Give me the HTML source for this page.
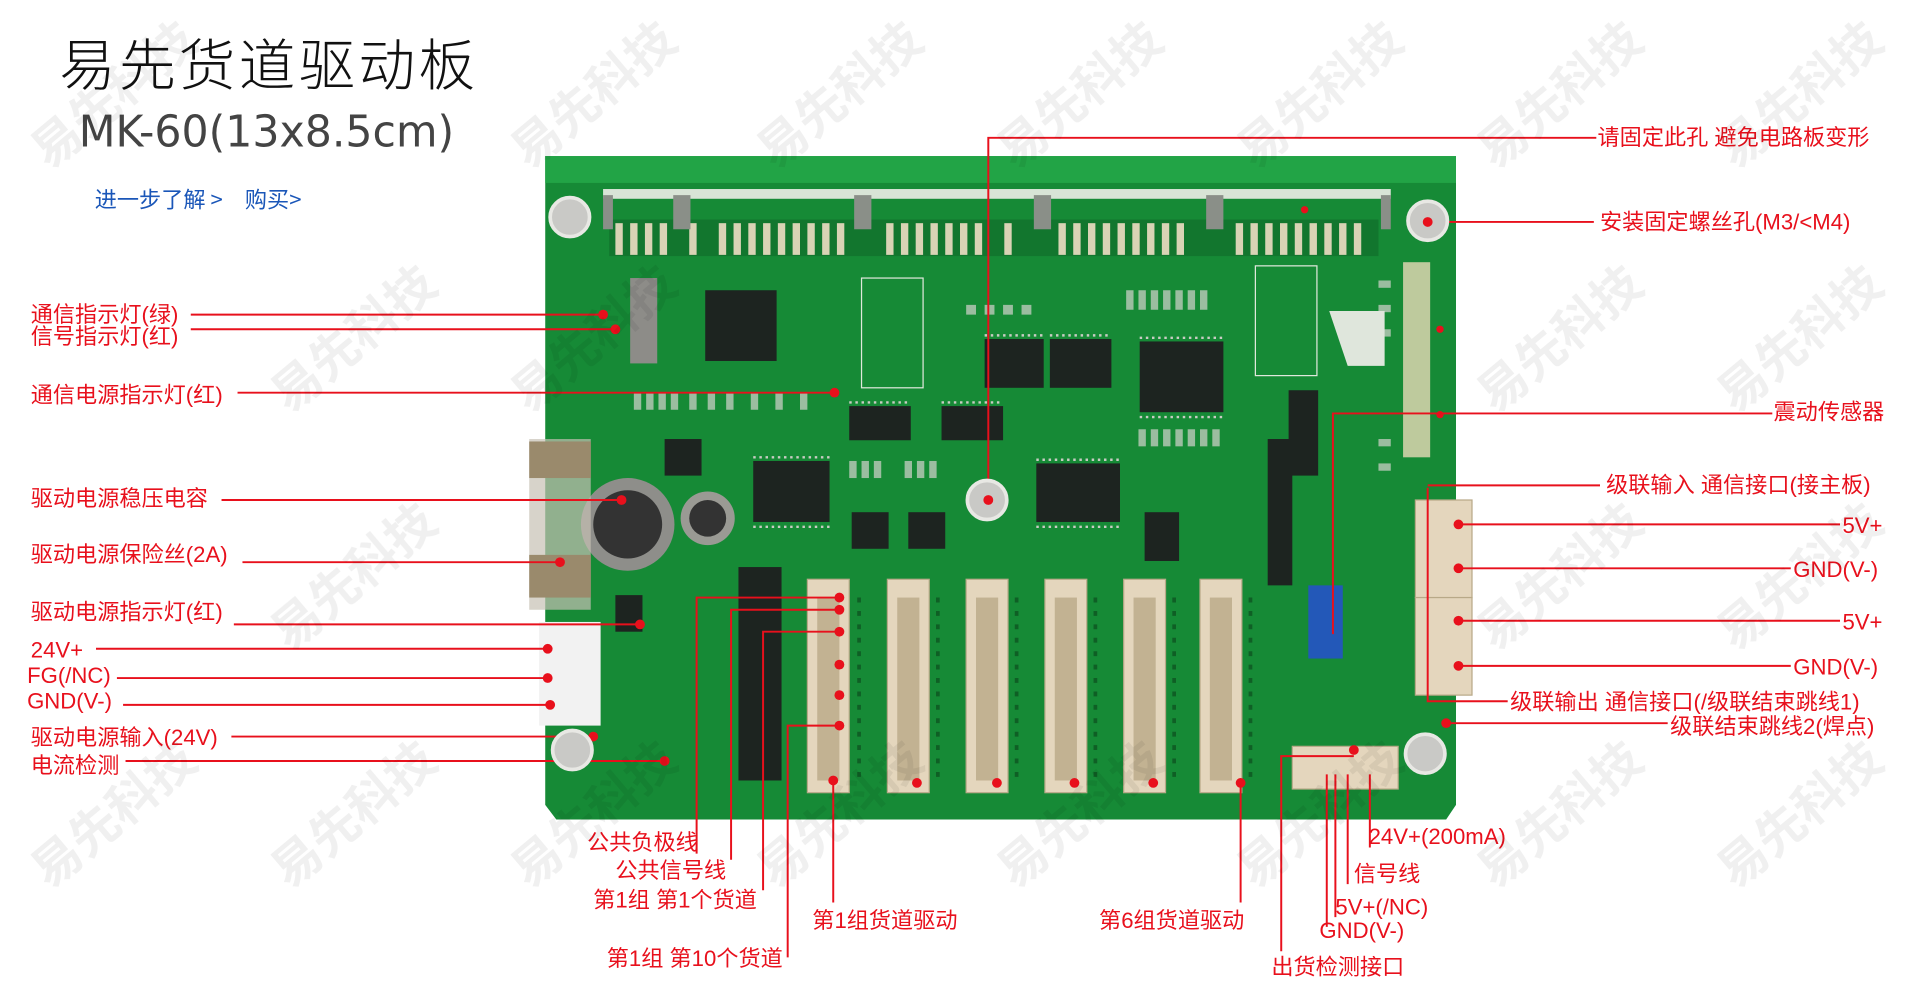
<!DOCTYPE html>
<html><head><meta charset="utf-8"><style>
html,body{margin:0;padding:0;background:#fff;width:1920px;height:1000px;overflow:hidden}
svg{display:block}
.r{fill:#e8101c;font-family:"Liberation Sans","Noto Sans CJK SC",sans-serif;font-size:18px}
.l{stroke:#e8101c;stroke-width:1.6;fill:none}
.wm{fill:#000;opacity:.06;font-family:"Noto Sans CJK SC",sans-serif;font-size:40px;font-weight:bold}
</style></head><body>
<svg width="1920" height="1000" viewBox="0 0 1560 820" preserveAspectRatio="none" xmlns="http://www.w3.org/2000/svg">
<!-- board -->
<path d="M443 128 H1183 V660 L1175 672 H452 L443 660 Z" fill="#168a36"/>
<rect x="443" y="128" width="740" height="22" fill="#22a446"/>
<rect x="490" y="155" width="640" height="8" fill="#d8e4d6"/>
<rect x="495" y="180" width="625" height="30" fill="#12762e"/>
<g fill="#d9d3b5">
<rect x="500" y="183" width="6" height="26"/><rect x="512" y="183" width="6" height="26"/><rect x="524" y="183" width="6" height="26"/><rect x="536" y="183" width="6" height="26"/><rect x="560" y="183" width="6" height="26"/><rect x="584" y="183" width="6" height="26"/><rect x="596" y="183" width="6" height="26"/><rect x="608" y="183" width="6" height="26"/><rect x="620" y="183" width="6" height="26"/><rect x="632" y="183" width="6" height="26"/><rect x="644" y="183" width="6" height="26"/><rect x="656" y="183" width="6" height="26"/><rect x="668" y="183" width="6" height="26"/><rect x="680" y="183" width="6" height="26"/><rect x="720" y="183" width="6" height="26"/><rect x="732" y="183" width="6" height="26"/><rect x="744" y="183" width="6" height="26"/><rect x="756" y="183" width="6" height="26"/><rect x="768" y="183" width="6" height="26"/><rect x="780" y="183" width="6" height="26"/><rect x="792" y="183" width="6" height="26"/><rect x="816" y="183" width="6" height="26"/><rect x="860" y="183" width="6" height="26"/><rect x="872" y="183" width="6" height="26"/><rect x="884" y="183" width="6" height="26"/><rect x="896" y="183" width="6" height="26"/><rect x="908" y="183" width="6" height="26"/><rect x="920" y="183" width="6" height="26"/><rect x="932" y="183" width="6" height="26"/><rect x="944" y="183" width="6" height="26"/><rect x="956" y="183" width="6" height="26"/><rect x="1004" y="183" width="6" height="26"/><rect x="1016" y="183" width="6" height="26"/><rect x="1028" y="183" width="6" height="26"/><rect x="1040" y="183" width="6" height="26"/><rect x="1052" y="183" width="6" height="26"/><rect x="1064" y="183" width="6" height="26"/><rect x="1076" y="183" width="6" height="26"/><rect x="1088" y="183" width="6" height="26"/><rect x="1100" y="183" width="6" height="26"/>
</g>
<g fill="#8a8f88"><rect x="490" y="160" width="8" height="28"/><rect x="547" y="160" width="14" height="28"/><rect x="694" y="160" width="14" height="28"/><rect x="840" y="160" width="14" height="28"/><rect x="980" y="160" width="14" height="28"/><rect x="1122" y="160" width="8" height="28"/></g>
<!-- small pads scattered -->
<g fill="#c8cfc4" opacity=".75">
<rect x="515" y="322" width="6" height="14"/><rect x="525" y="322" width="6" height="14"/><rect x="535" y="322" width="6" height="14"/><rect x="545" y="322" width="6" height="14"/><rect x="560" y="322" width="6" height="14"/><rect x="575" y="322" width="6" height="14"/><rect x="590" y="322" width="6" height="14"/><rect x="610" y="322" width="6" height="14"/><rect x="630" y="322" width="6" height="14"/><rect x="650" y="322" width="6" height="14"/>
<rect x="915" y="238" width="6" height="16"/><rect x="925" y="238" width="6" height="16"/><rect x="935" y="238" width="6" height="16"/><rect x="945" y="238" width="6" height="16"/><rect x="955" y="238" width="6" height="16"/><rect x="965" y="238" width="6" height="16"/><rect x="975" y="238" width="6" height="16"/>
<rect x="925" y="352" width="6" height="14"/><rect x="935" y="352" width="6" height="14"/><rect x="945" y="352" width="6" height="14"/><rect x="955" y="352" width="6" height="14"/><rect x="965" y="352" width="6" height="14"/><rect x="975" y="352" width="6" height="14"/><rect x="985" y="352" width="6" height="14"/>
<rect x="690" y="378" width="6" height="14"/><rect x="700" y="378" width="6" height="14"/><rect x="710" y="378" width="6" height="14"/><rect x="735" y="378" width="6" height="14"/><rect x="745" y="378" width="6" height="14"/><rect x="755" y="378" width="6" height="14"/>
<rect x="785" y="250" width="8" height="8"/><rect x="800" y="250" width="8" height="8"/><rect x="815" y="250" width="8" height="8"/><rect x="830" y="250" width="8" height="8"/>
<rect x="1120" y="230" width="10" height="6"/><rect x="1120" y="250" width="10" height="6"/><rect x="1120" y="270" width="10" height="6"/><rect x="1120" y="360" width="10" height="6"/><rect x="1120" y="380" width="10" height="6"/>
</g>
<!-- chips -->
<g fill="#1d2420">
<rect x="573" y="238" width="58" height="58"/><rect x="512" y="228" width="22" height="70" fill="#8d8c88"/>
<rect x="690" y="333" width="50" height="28"/><rect x="765" y="333" width="50" height="28"/>
<rect x="800" y="278" width="48" height="40"/><rect x="853" y="278" width="50" height="40"/>
<rect x="926" y="280" width="68" height="58"/><rect x="612" y="378" width="62" height="50"/>
<rect x="842" y="380" width="68" height="48"/><rect x="1047" y="320" width="24" height="70"/>
<rect x="540" y="360" width="30" height="30"/><rect x="600" y="465" width="35" height="175"/>
<rect x="500" y="488" width="22" height="30"/><rect x="692" y="420" width="30" height="30"/><rect x="738" y="420" width="30" height="30"/>
<rect x="930" y="420" width="28" height="40"/><rect x="1030" y="360" width="20" height="120"/>
</g>
<g stroke="#c9ccc4" stroke-width="2" stroke-dasharray="2 3">
<path d="M690 330H740M765 330H815M800 275H848M853 275H903M926 277H994M612 375H674M842 377H910M612 432H674M842 432H910M926 342H994"/>
</g>
<rect x="700" y="228" width="50" height="90" fill="none" stroke="#e0e8dc"/>
<rect x="1020" y="218" width="50" height="90" fill="none" stroke="#e0e8dc"/>
<polygon points="1080,255 1125,255 1125,300 1095,300" fill="#dfe6dc"/>
<!-- caps -->
<circle cx="510" cy="430" r="38" fill="#8e8e8a"/><circle cx="510" cy="430" r="28" fill="#333"/>
<circle cx="575" cy="425" r="22" fill="#9a9a94"/><circle cx="575" cy="425" r="15" fill="#333"/>
<!-- fuse -->
<rect x="430" y="360" width="50" height="140" fill="#c6c1b4" opacity=".7"/>
<rect x="430" y="362" width="50" height="30" fill="#9a8a6c"/><rect x="430" y="455" width="50" height="35" fill="#9a8a6c"/>
<!-- power connector -->
<rect x="438" y="510" width="50" height="85" fill="#f2f2f2"/>
<!-- connectors bottom -->
<g fill="#e4d6bd" stroke="#b8a988">
<rect x="656" y="475" width="34" height="175"/><rect x="721" y="475" width="34" height="175"/><rect x="785" y="475" width="34" height="175"/><rect x="849" y="475" width="34" height="175"/><rect x="913" y="475" width="34" height="175"/><rect x="975" y="475" width="34" height="175"/>
<rect x="1150" y="410" width="46" height="80"/><rect x="1150" y="490" width="46" height="80"/>
<rect x="1050" y="612" width="86" height="35"/>
</g>
<g fill="#c2b292"><rect x="664" y="490" width="18" height="150"/><rect x="729" y="490" width="18" height="150"/><rect x="793" y="490" width="18" height="150"/><rect x="857" y="490" width="18" height="150"/><rect x="921" y="490" width="18" height="150"/><rect x="983" y="490" width="18" height="150"/></g>
<g stroke="#0f5f25" stroke-width="3" stroke-dasharray="4 7">
<path d="M698 490V640M762 490V640M826 490V640M890 490V640M954 490V640M1016 490V640"/>
</g>
<rect x="1063" y="480" width="28" height="60" fill="#2358b8"/>
<rect x="1140" y="215" width="22" height="160" fill="#e9d9b8" opacity=".8"/>
<!-- title -->
<text x="48" y="70" font-family="'Noto Sans CJK SC',sans-serif" font-size="46" fill="#111" textLength="338" font-weight="300">易先货道驱动板</text>
<text x="64" y="120" font-family="'DejaVu Sans','Liberation Sans',sans-serif" font-size="36" fill="#444" textLength="305" lengthAdjust="spacingAndGlyphs">MK-60(13x8.5cm)</text>
<text x="77" y="170" font-family="'Noto Sans CJK SC',sans-serif" font-size="18" fill="#1a56b8">进一步了解 &gt;　购买&gt;</text>
<!-- lines -->
<g class="l">
<path d="M155 258H490"/><path d="M155 270H500"/><path d="M193 322H678"/><path d="M180 410H505"/>
<path d="M197 461H455"/><path d="M190 512H520"/><path d="M78 532H445"/><path d="M95 556H445"/><path d="M100 578H447"/>
<path d="M188 604H482"/><path d="M102 624H540"/>
<path d="M803 410V113H1297"/><path d="M1160 182H1295"/><path d="M1083 520V339H1440"/>
<path d="M1160 398H1300"/><path d="M1185 430H1495"/><path d="M1185 466H1455"/><path d="M1185 509H1495"/><path d="M1185 546H1455"/>
<path d="M1160 400V575H1225"/><path d="M1175 593H1355"/>
<path d="M566 700V490H680"/><path d="M594 705V500H680"/><path d="M620 730V518H680"/><path d="M640 785V595H680"/>
<path d="M677 740V640"/><path d="M1008 740V640"/>
<path d="M1113 695V635"/><path d="M1095 725V635"/><path d="M1085 752V635"/><path d="M1078 760V635"/><path d="M1041 780V620H1100"/>
</g>
<g fill="#e8101c">
<circle cx="490" cy="258" r="4"/><circle cx="500" cy="270" r="4"/><circle cx="678" cy="322" r="4"/><circle cx="505" cy="410" r="4"/><circle cx="455" cy="461" r="4"/><circle cx="520" cy="512" r="4"/><circle cx="445" cy="532" r="4"/><circle cx="445" cy="556" r="4"/><circle cx="447" cy="578" r="4"/><circle cx="482" cy="604" r="4"/><circle cx="540" cy="624" r="4"/>
<circle cx="803" cy="410" r="4"/><circle cx="1160" cy="182" r="4"/><circle cx="1185" cy="430" r="4"/><circle cx="1185" cy="466" r="4"/><circle cx="1185" cy="509" r="4"/><circle cx="1185" cy="546" r="4"/><circle cx="1175" cy="593" r="4"/>
<circle cx="682" cy="490" r="4"/><circle cx="682" cy="500" r="4"/><circle cx="682" cy="518" r="4"/><circle cx="682" cy="545" r="4"/><circle cx="682" cy="570" r="4"/><circle cx="682" cy="595" r="4"/><circle cx="677" cy="640" r="4"/>
<circle cx="745" cy="642" r="4"/><circle cx="810" cy="642" r="4"/><circle cx="873" cy="642" r="4"/><circle cx="937" cy="642" r="4"/><circle cx="1008" cy="642" r="4"/><circle cx="1100" cy="615" r="4"/>
<circle cx="1060" cy="172" r="3"/><circle cx="1170" cy="270" r="3"/><circle cx="1170" cy="340" r="3"/>
</g>
<!-- mount holes -->
<g fill="#c9c9c6" stroke="#e8e8e4" stroke-width="3"><circle cx="463" cy="178" r="16"/><circle cx="1160" cy="181" r="16"/><circle cx="465" cy="615" r="16"/><circle cx="1158" cy="618" r="16"/><circle cx="802" cy="410" r="16"/></g>
<g fill="#e8101c"><circle cx="1160" cy="182" r="4"/><circle cx="803" cy="410" r="4"/></g>
<!-- labels -->
<g class="r">
<text x="25" y="264">通信指示灯(绿)</text><text x="25" y="282">信号指示灯(红)</text><text x="25" y="330">通信电源指示灯(红)</text>
<text x="25" y="415">驱动电源稳压电容</text><text x="25" y="461">驱动电源保险丝(2A)</text><text x="25" y="508">驱动电源指示灯(红)</text>
<text x="25" y="539">24V+</text><text x="22" y="560">FG(/NC)</text><text x="22" y="581">GND(V-)</text>
<text x="25" y="611">驱动电源输入(24V)</text><text x="25" y="634">电流检测</text>
<text x="1298" y="119">请固定此孔 避免电路板变形</text><text x="1300" y="188">安装固定螺丝孔(M3/&lt;M4)</text>
<text x="1441" y="344">震动传感器</text><text x="1305" y="404">级联输入 通信接口(接主板)</text>
<text x="1497" y="437">5V+</text><text x="1457" y="473">GND(V-)</text><text x="1497" y="516">5V+</text><text x="1457" y="553">GND(V-)</text>
<text x="1227" y="582">级联输出 通信接口(/级联结束跳线1)</text><text x="1357" y="602">级联结束跳线2(焊点)</text>
<text x="477" y="697">公共负极线</text><text x="500" y="720">公共信号线</text><text x="482" y="744">第1组 第1个货道</text>
<text x="493" y="792">第1组 第10个货道</text><text x="660" y="761">第1组货道驱动</text><text x="893" y="761">第6组货道驱动</text>
<text x="1112" y="692">24V+(200mA)</text><text x="1100" y="723">信号线</text><text x="1085" y="750">5V+(/NC)</text><text x="1072" y="769">GND(V-)</text>
<text x="1033" y="799">出货检测接口</text>
</g>
<!-- watermarks -->
<g class="wm">
<text transform="translate(40,140) rotate(-40)">易先科技</text><text transform="translate(430,140) rotate(-40)">易先科技</text><text transform="translate(630,140) rotate(-40)">易先科技</text><text transform="translate(825,140) rotate(-40)">易先科技</text><text transform="translate(1020,140) rotate(-40)">易先科技</text><text transform="translate(1215,140) rotate(-40)">易先科技</text><text transform="translate(1410,140) rotate(-40)">易先科技</text>
<text transform="translate(235,340) rotate(-40)">易先科技</text><text transform="translate(430,340) rotate(-40)">易先科技</text><text transform="translate(1215,340) rotate(-40)">易先科技</text><text transform="translate(1410,340) rotate(-40)">易先科技</text>
<text transform="translate(235,535) rotate(-40)">易先科技</text><text transform="translate(1215,535) rotate(-40)">易先科技</text><text transform="translate(1410,535) rotate(-40)">易先科技</text>
<text transform="translate(40,730) rotate(-40)">易先科技</text><text transform="translate(235,730) rotate(-40)">易先科技</text><text transform="translate(430,730) rotate(-40)">易先科技</text><text transform="translate(630,730) rotate(-40)">易先科技</text><text transform="translate(825,730) rotate(-40)">易先科技</text><text transform="translate(1020,730) rotate(-40)">易先科技</text><text transform="translate(1215,730) rotate(-40)">易先科技</text><text transform="translate(1410,730) rotate(-40)">易先科技</text>
</g>
</svg>
</body></html>
